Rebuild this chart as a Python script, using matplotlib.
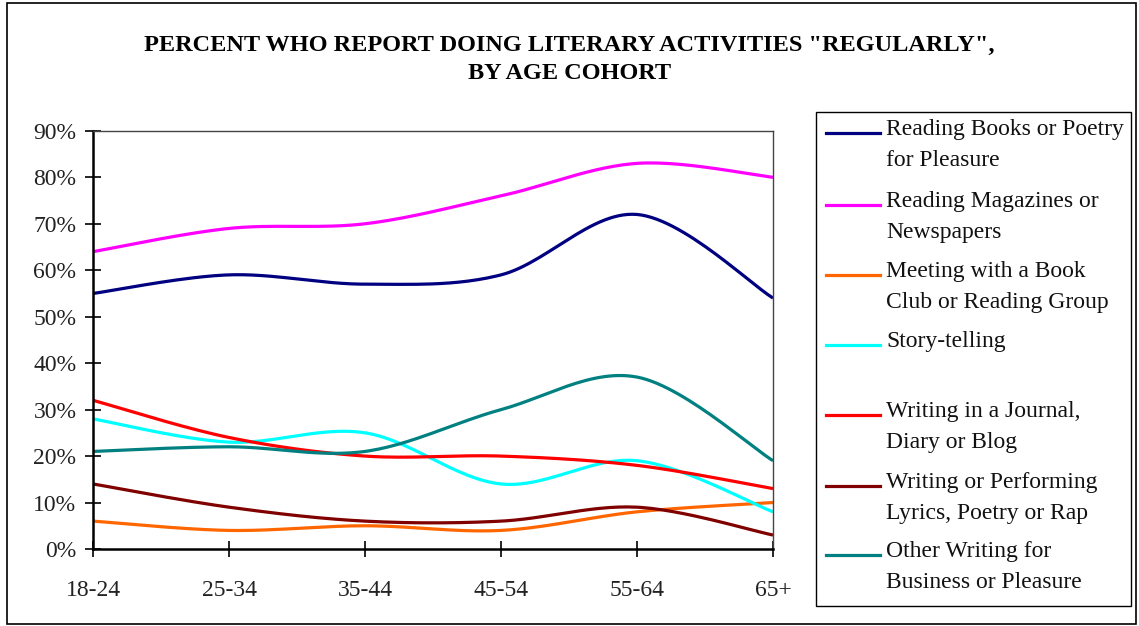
import numpy as np
import matplotlib.pyplot as plt
from matplotlib.patches import Rectangle
from matplotlib.lines import Line2D

# categories and series (percent)
ages = ["18-24", "25-34", "35-44", "45-54", "55-64", "65+"]
books = [55, 59, 57, 59, 72, 54]
magazines = [64, 69, 70, 76, 83, 80]
book_club = [6, 4, 5, 4, 8, 10]
story = [28, 23, 25, 14, 19, 8]
journal = [32, 24, 20, 20, 18, 13]
lyrics = [14, 9, 6, 6, 9, 3]
other = [21, 22, 21, 30, 37, 19]

labels = ["Reading Books or Poetry\nfor Pleasure",
          "Reading Magazines or\nNewspapers",
          "Meeting with a Book\nClub or Reading Group",
          "Story-telling",
          "Writing in a Journal,\nDiary or Blog",
          "Writing or Performing\nLyrics, Poetry or Rap",
          "Other Writing for\nBusiness or Pleasure"]
colors = ["#000080", "#FF00FF", "#FF6600", "#00FFFF", "#FF0000", "#800000", "#008080"]
series = [books, magazines, book_club, story, journal, lyrics, other]

FONT = "Liberation Serif"


def smooth(xs, ys, n=30):
    # excel-like smoothed line: bezier with catmull-rom tangents
    xs = np.asarray(xs, float)
    ys = np.asarray(ys, float)
    px = np.concatenate([[xs[0]], xs, [xs[-1]]])
    py = np.concatenate([[ys[0]], ys, [ys[-1]]])
    ox, oy = [], []
    t = np.linspace(0, 1, n)
    for i in range(1, len(px) - 2):
        p0 = np.array([px[i], py[i]])
        p3 = np.array([px[i + 1], py[i + 1]])
        p1 = p0 + (np.array([px[i + 1], py[i + 1]]) - np.array([px[i - 1], py[i - 1]])) / 6
        p2 = p3 - (np.array([px[i + 2], py[i + 2]]) - np.array([px[i], py[i]])) / 6
        b = ((1 - t) ** 3)[:, None] * p0 + (3 * (1 - t) ** 2 * t)[:, None] * p1 \
            + (3 * (1 - t) * t ** 2)[:, None] * p2 + (t ** 3)[:, None] * p3
        ox.extend(b[:, 0])
        oy.extend(b[:, 1])
    return np.array(ox), np.array(oy)


fig = plt.figure(figsize=(11.39, 6.26), dpi=100)

# outer border
fig.patches.append(Rectangle((0.006, 0.003), 0.991, 0.992, transform=fig.transFigure,
                             fill=False, edgecolor="black", linewidth=1.2))

fig.text(0.5, 0.928, 'PERCENT WHO REPORT DOING LITERARY ACTIVITIES "REGULARLY",',
         ha="center", va="center", fontsize=17.5, fontweight="bold", family=FONT)
fig.text(0.5, 0.882, "BY AGE COHORT",
         ha="center", va="center", fontsize=17.5, fontweight="bold", family=FONT)

ax = fig.add_axes([0.0817, 0.123, 0.597, 0.668])
x = np.arange(len(ages))
for vals, c in zip(series, colors):
    sx, sy = smooth(x, np.array(vals) / 100.0)
    ax.plot(sx, sy, color=c, linewidth=2.3, solid_capstyle="butt")

ax.set_xlim(0, len(ages) - 1)
ax.set_ylim(0, 0.9)
ax.set_yticks(np.arange(0, 0.91, 0.1))
ax.set_yticklabels([f"{int(round(v * 100))}%" for v in np.arange(0, 0.91, 0.1)])
ax.set_xticks(x)
ax.set_xticklabels(ages)
ax.tick_params(axis="both", direction="inout", length=12, width=1.2, labelsize=17)
ax.tick_params(axis="x", pad=16)
ax.tick_params(axis="y", pad=6)
for lab in ax.get_xticklabels() + ax.get_yticklabels():
    lab.set_family(FONT)
    lab.set_color("#222222")
for s in ["top", "right"]:
    ax.spines[s].set_linewidth(1.0)
    ax.spines[s].set_color("#444444")
for s in ["left", "bottom"]:
    ax.spines[s].set_linewidth(1.8)

# legend, drawn by hand to keep excel spacing
W, H = 1139.0, 626.0
fig.patches.append(Rectangle((816 / W, 1 - 606 / H), (1131 - 816) / W, (606 - 112) / H,
                             transform=fig.transFigure, fill=False,
                             edgecolor="black", linewidth=1.0))
entry_y = [133, 205, 275, 345, 415, 486, 555]
for yy, lab, c in zip(entry_y, labels, colors):
    fy = 1 - yy / H
    fig.lines.append(Line2D([826 / W, 880 / W], [fy, fy], transform=fig.transFigure,
                            color=c, linewidth=2.3))
    fig.text(886 / W, fy + 14 / H, lab, ha="left", va="top", fontsize=17,
             family=FONT, color="#111111", linespacing=1.65)

fig.savefig("out.png", dpi=100)
